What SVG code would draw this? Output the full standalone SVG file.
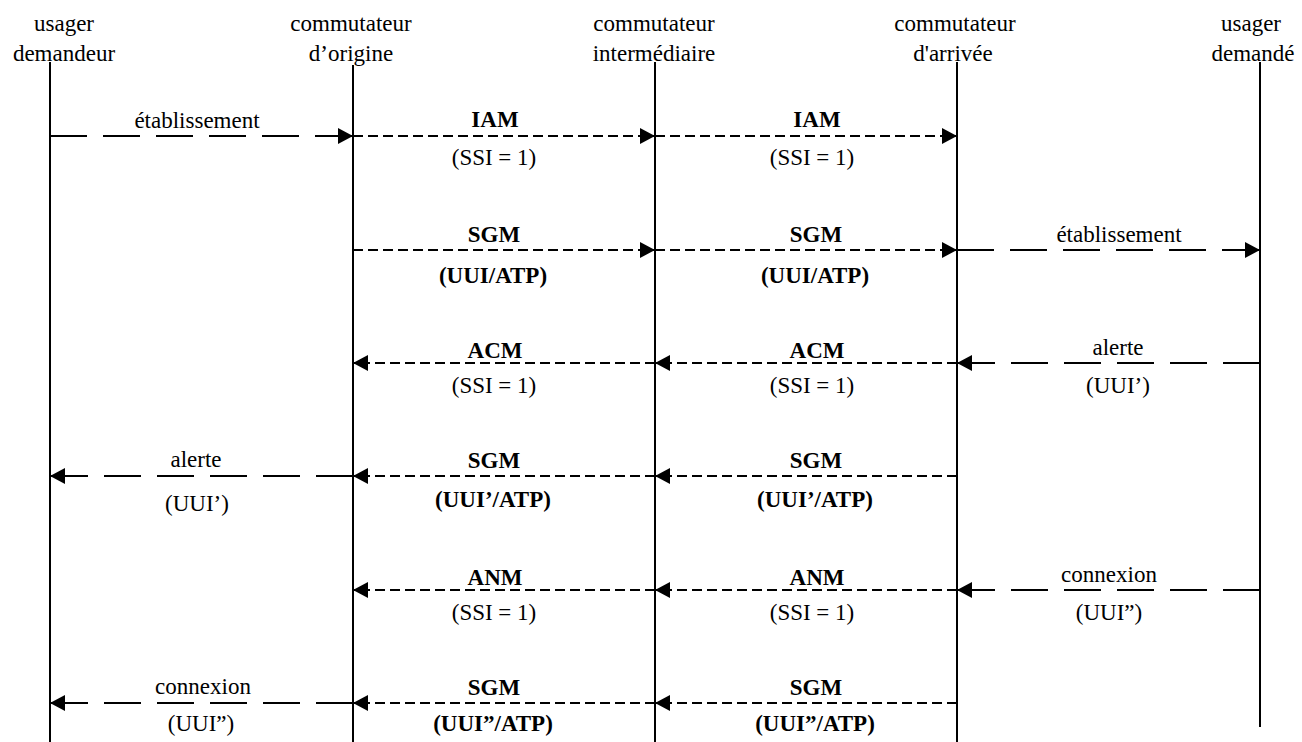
<svg xmlns="http://www.w3.org/2000/svg" width="1302" height="742" viewBox="0 0 1302 742">
<style>
text{font-family:"Liberation Serif","Times New Roman",serif;font-size:23px;fill:#000;text-anchor:middle}
.b{font-weight:bold}
.life{stroke:#000;stroke-width:2;fill:none}
.long{stroke:#000;stroke-width:2;fill:none;stroke-dasharray:37 16;marker-end:url(#ah)}
.short{stroke:#000;stroke-width:2;fill:none;stroke-dasharray:10 5;marker-end:url(#ah)}
</style>
<defs>
<marker id="ah" markerUnits="userSpaceOnUse" markerWidth="16" markerHeight="16" refX="15" refY="8" orient="auto" viewBox="0 0 16 16">
<path d="M0,0 L15,8 L0,16 Z" fill="#000"/>
</marker>
</defs>
<rect width="1302" height="742" fill="#fff"/>
<g id="usager-demandeur">
<text x="64" y="31">usager</text>
<text x="64" y="61">demandeur</text>
<line class="life" x1="50" y1="62" x2="50" y2="742"/>
</g>
<g id="commutateur-origine">
<text x="351" y="31">commutateur</text>
<text x="351" y="61">d’origine</text>
<line class="life" x1="353" y1="65" x2="353" y2="742"/>
</g>
<g id="commutateur-intermediaire">
<text x="654" y="31">commutateur</text>
<text x="654" y="61">intermédiaire</text>
<line class="life" x1="655" y1="62" x2="655" y2="742"/>
</g>
<g id="commutateur-arrivee">
<text x="955" y="31">commutateur</text>
<text x="953" y="61">d'arrivée</text>
<line class="life" x1="957" y1="62" x2="957" y2="742"/>
</g>
<g id="usager-demande">
<text x="1251" y="31">usager</text>
<text x="1253" y="61">demandé</text>
<line class="life" x1="1260" y1="62" x2="1260" y2="727"/>
</g>
<g id="connectors">
<line class="long" x1="50" y1="136" x2="353" y2="136"/>
<line class="short" x1="353" y1="136" x2="655" y2="136"/>
<line class="short" x1="655" y1="136" x2="957" y2="136"/>

<line class="short" x1="353" y1="250" x2="655" y2="250"/>
<line class="short" x1="655" y1="250" x2="957" y2="250"/>
<line class="long" x1="957" y1="250" x2="1260" y2="250"/>

<line class="long" x1="1260" y1="363" x2="957" y2="363"/>
<line class="short" x1="957" y1="363" x2="655" y2="363"/>
<line class="short" x1="655" y1="363" x2="353" y2="363"/>

<line class="short" x1="957" y1="476" x2="655" y2="476"/>
<line class="short" x1="655" y1="476" x2="353" y2="476"/>
<line class="long" x1="353" y1="476" x2="50" y2="476"/>

<line class="long" x1="1260" y1="590" x2="957" y2="590"/>
<line class="short" x1="957" y1="590" x2="655" y2="590"/>
<line class="short" x1="655" y1="590" x2="353" y2="590"/>

<line class="short" x1="957" y1="703" x2="655" y2="703"/>
<line class="short" x1="655" y1="703" x2="353" y2="703"/>
<line class="long" x1="353" y1="703" x2="50" y2="703"/>
</g>
<g id="labels">
<text x="197" y="128">établissement</text>
<text class="b" x="495" y="127">IAM</text>
<text x="494" y="165">(SSI = 1)</text>
<text class="b" x="817" y="127">IAM</text>
<text x="812" y="165">(SSI = 1)</text>

<text class="b" x="494" y="242">SGM</text>
<text class="b" x="493" y="283">(UUI/ATP)</text>
<text class="b" x="816" y="242">SGM</text>
<text class="b" x="815" y="283">(UUI/ATP)</text>
<text x="1119" y="242">établissement</text>

<text class="b" x="495" y="358">ACM</text>
<text x="494" y="393">(SSI = 1)</text>
<text class="b" x="817" y="358">ACM</text>
<text x="812" y="393">(SSI = 1)</text>
<text x="1118" y="355">alerte</text>
<text x="1118" y="393">(UUI’)</text>

<text x="196" y="467">alerte</text>
<text x="197" y="511">(UUI’)</text>
<text class="b" x="494" y="468">SGM</text>
<text class="b" x="493" y="507">(UUI’/ATP)</text>
<text class="b" x="816" y="468">SGM</text>
<text class="b" x="815" y="507">(UUI’/ATP)</text>

<text class="b" x="495" y="585">ANM</text>
<text x="494" y="620">(SSI = 1)</text>
<text class="b" x="817" y="585">ANM</text>
<text x="812" y="620">(SSI = 1)</text>
<text x="1109" y="582">connexion</text>
<text x="1109" y="620">(UUI”)</text>

<text x="203" y="694">connexion</text>
<text x="201" y="731">(UUI”)</text>
<text class="b" x="494" y="695">SGM</text>
<text class="b" x="493" y="731">(UUI”/ATP)</text>
<text class="b" x="816" y="695">SGM</text>
<text class="b" x="815" y="731">(UUI”/ATP)</text>
</g>
</svg>
